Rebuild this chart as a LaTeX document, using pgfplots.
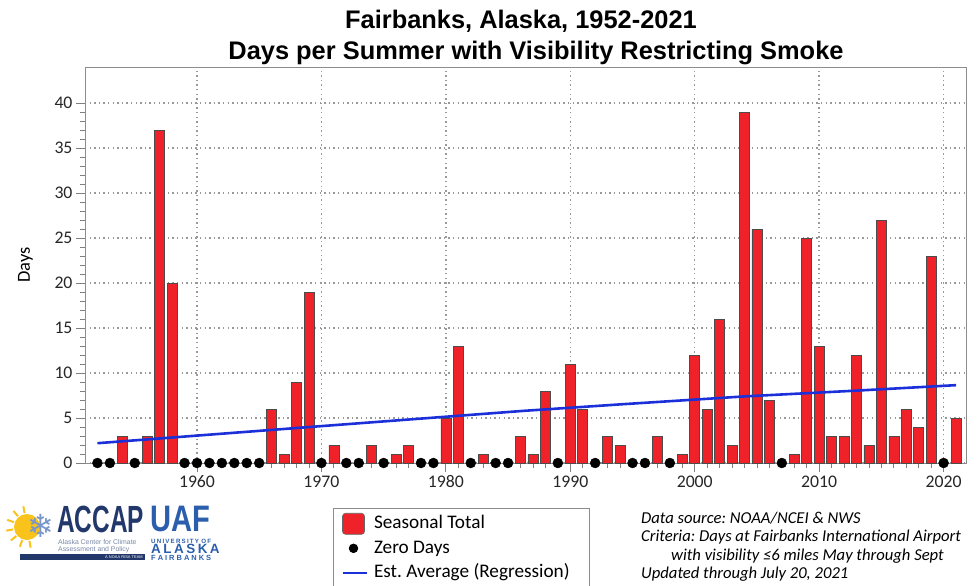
\documentclass[border=0pt]{standalone}
\usepackage{fontspec}
\setmainfont{Carlito}
\newfontfamily\arialfont{Liberation Sans}
\newfontfamily\dejavu{DejaVu Sans}
\usepackage{pgfplots}
\usepackage{pgfplotstable}
\pgfplotsset{compat=1.18}
\frenchspacing

\definecolor{barred}{RGB}{238,34,40}
\definecolor{trendblue}{RGB}{28,48,218}
\definecolor{navy}{RGB}{34,56,107}
\definecolor{uafblue}{RGB}{43,94,172}
\definecolor{logogray}{RGB}{120,135,165}

\pgfplotstableread{
year days
1954 3
1956 3
1957 37
1958 20
1966 6
1967 1
1968 9
1969 19
1971 2
1974 2
1976 1
1977 2
1980 5
1981 13
1983 1
1986 3
1987 1
1988 8
1990 11
1991 6
1993 3
1994 2
1997 3
1999 1
2000 12
2001 6
2002 16
2003 2
2004 39
2005 26
2006 7
2008 1
2009 25
2010 13
2011 3
2012 3
2013 12
2014 2
2015 27
2016 3
2017 6
2018 4
2019 23
2021 5
}\bars

\pgfplotstableread{
year days
1952 0
1953 0
1955 0
1959 0
1960 0
1961 0
1962 0
1963 0
1964 0
1965 0
1970 0
1972 0
1973 0
1975 0
1978 0
1979 0
1982 0
1984 0
1985 0
1989 0
1992 0
1995 0
1996 0
1998 0
2007 0
2020 0
}\zeros

\pgfplotstableread{
year days
1952 2.2
1970 4.1
1986.3 5.8
1994.4 6.55
2004 7.4
2013.1 8.05
2021 8.65
}\trend

\begin{document}
\begin{tikzpicture}
\path[use as bounding box] (0,0) rectangle (979bp,-586bp);

% titles
\node[anchor=base, font=\arialfont\bfseries\fontsize{25.5}{28}\selectfont] at (521bp,-28bp) {Fairbanks, Alaska, 1952-2021};
\node[anchor=base, font=\arialfont\bfseries\fontsize{25.5}{28}\selectfont] at (536bp,-59bp) {Days per Summer with Visibility Restricting Smoke};

\begin{axis}[
  at={(85bp,-463bp)}, anchor=south west,
  scale only axis, width=881bp, height=396bp,
  xmin=1951, xmax=2021.8, ymin=0, ymax=44,
  axis line style={draw=black!45, line width=1bp},
  xtick={1960,1970,...,2020}, minor x tick num=9,
  ytick={0,5,...,40}, minor y tick num=4,
  tick pos=left, tick align=outside,
  major tick length=9bp, minor tick length=5bp,
  every tick/.style={black!50, line width=0.8bp},
  grid=major,
  major grid style={black!40, line width=1.4bp, dash pattern=on 1.4bp off 3.2bp},
  /pgf/number format/assume math mode=true,
  xticklabel style={/pgf/number format/1000 sep={}, font=\fontsize{17.8}{20}\selectfont, text=black!85},
  yticklabel style={font=\fontsize{17.8}{20}\selectfont, text=black!85},
  ylabel={Days},
  ylabel style={font=\fontsize{18.5}{20}\selectfont, at={(axis description cs:-0.0675,0.5)}, anchor=center},
  legend style={at={(0.2815,-0.1136)}, anchor=north west, draw=black!45, line width=1bp,
    font=\fontsize{19.3}{21}\selectfont, cells={anchor=west},
    nodes={inner sep=1.5bp, text height=14bp, text depth=4.5bp},
    /tikz/every odd column/.append style={column sep=5bp},
    row sep=3bp,
    inner xsep=8bp, inner ysep=4.5bp},
  legend cell align=left,
]
\addplot[ybar, bar width=0.8, fill=barred, draw=black!70, line width=0.6bp,
  legend image code/.code={\draw[rounded corners=3bp, fill=barred, draw=black!60, line width=0.6bp] (0bp,-10.5bp) rectangle (22bp,10.5bp);}]
  table[x=year,y=days]{\bars};
\addlegendentry{Seasonal Total}
\addplot[only marks, mark=*, mark size=5bp, black,
  legend image code/.code={\fill[black] (11bp,0bp) circle (4.2bp);}]
  table[x=year,y=days]{\zeros};
\addlegendentry{Zero Days}
\addplot[no marks, line width=2.6bp, trendblue,
  legend image code/.code={\draw[trendblue, line width=2bp] (0bp,0bp) -- (24bp,0bp);}]
  table[x=year,y=days]{\trend};
\addlegendentry{Est. Average (Regression)\hspace*{10bp}}
\end{axis}

% notes
\begin{scope}[every node/.style={anchor=base west, inner sep=0, font=\itshape\fontsize{16.7}{18}\selectfont}]
\node at (641bp,-523bp) {Data source: NOAA/NCEI \& NWS};
\node at (641bp,-541.5bp) {Criteria: Days at Fairbanks International Airport};
\node at (671bp,-560bp) {with visibility ≤6 miles May through Sept};
\node at (641bp,-578.5bp) {Updated through July 20, 2021};
\end{scope}

% logo approximation
\fill[color={rgb,255:red,249;green,195;blue,27}] (27bp,-527bp) circle (13bp);
\foreach \a in {100,130,...,280} {\draw[color={rgb,255:red,249;green,195;blue,27}, line width=2bp] (27bp,-527bp) ++(\a:14bp) -- ++(\a:7bp);}
\node[font=\dejavu\fontsize{32}{32}\selectfont, text={rgb,255:red,120;green,150;blue,205}, inner sep=0] at (41bp,-526bp) {❄};
\node[anchor=base west, inner sep=0, text=navy, font=\arialfont\bfseries\fontsize{38}{40}\selectfont] at (57bp,-532bp) {\scalebox{0.645}[1]{ACCAP}};
\node[anchor=base west, inner sep=0, text=uafblue, font=\arialfont\bfseries\fontsize{37}{40}\selectfont] at (150bp,-531.5bp) {\scalebox{0.79}[1]{UAF}};
\node[anchor=base west, inner sep=0, text=logogray, font=\arialfont\fontsize{6.9}{7}\selectfont] at (58bp,-544bp) {Alaska Center for Climate};
\node[anchor=base west, inner sep=0, text=logogray, font=\arialfont\fontsize{6.9}{7}\selectfont] at (58bp,-551.5bp) {Assessment and Policy};
\fill[navy] (20bp,-554bp) rectangle (145bp,-560bp);
\node[anchor=base east, inner sep=0, text=white, font=\arialfont\fontsize{4}{4}\selectfont] at (143bp,-558.5bp) {A NOAA RISA TEAM};
\node[anchor=base west, inner sep=0, text=uafblue, font=\arialfont\bfseries\fontsize{6.2}{7}\selectfont] at (151bp,-543bp) {\makebox[60bp][s]{U N I V E R S I T Y \ O F}};
\node[anchor=base west, inner sep=0, text=uafblue, font=\arialfont\bfseries\fontsize{13.5}{14}\selectfont] at (151bp,-553bp) {\makebox[60bp][s]{A L A S K A}};
\node[anchor=base west, inner sep=0, text=uafblue, font=\arialfont\bfseries\fontsize{7.5}{8}\selectfont] at (151bp,-560.5bp) {\makebox[60bp][s]{F A I R B A N K S}};
\end{tikzpicture}
\end{document}
